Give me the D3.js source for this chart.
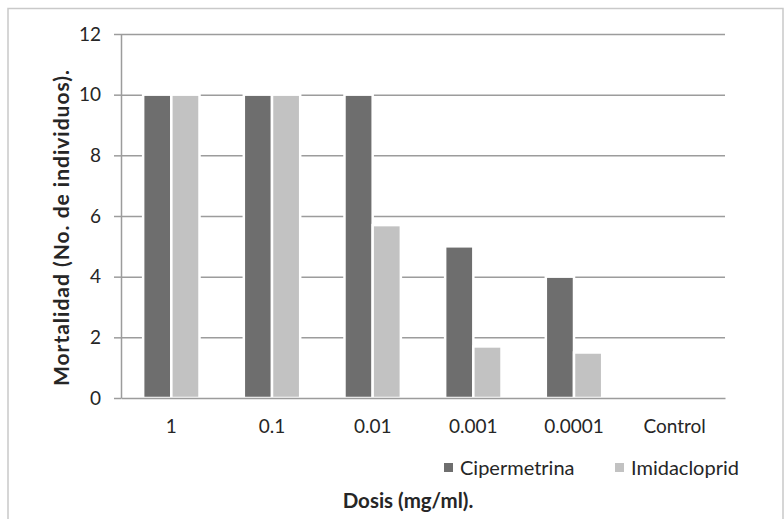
<!DOCTYPE html>
<html>
<head>
<meta charset="utf-8">
<script src="https://cdn.jsdelivr.net/npm/d3@7"></script>
<style>
  html, body { margin: 0; padding: 0; background: #fff; }
  svg { display: block; }
  text { font-family: Lato, "Open Sans", sans-serif; fill: #262626; }
</style>
</head>
<body>
<svg id="chart" width="784" height="519"></svg>
<script>
// ---- Data ----
const categories = ["1", "0.1", "0.01", "0.001", "0.0001", "Control"];
const seriesNames = ["Cipermetrina", "Imidacloprid"];
const cipermetrina = [10, 10, 10, 5, 4, 0];
const imidacloprid = [10, 10, 5.7, 1.7, 1.5, 0];
const yTicks = [0, 2, 4, 6, 8, 10, 12];
const yTitle = "Mortalidad (No. de individuos).";
const xTitle = "Dosis (mg/ml).";
const colors = ["#6e6e6e", "#c2c2c2"];

const seriesValues = [cipermetrina, imidacloprid];

const svg = d3.select("#chart");

// frame
svg.append("rect")
  .attr("x", 8).attr("y", 8.5).attr("width", 775).attr("height", 530)
  .attr("fill", "none").attr("stroke", "#c9c9c9").attr("stroke-width", 1.5);

const plot = { left: 121, right: 725, top: 34, bottom: 398 };

const x0 = d3.scaleBand().domain(categories)
  .range([plot.left, plot.right]).paddingInner(0.44).paddingOuter(0.22);
const x1 = d3.scaleBand().domain(seriesNames).range([0, x0.bandwidth()]).padding(0);
const y = d3.scaleLinear().domain([0, 12]).range([plot.bottom, plot.top]);

// gridlines
const grid = svg.append("g").attr("transform", `translate(${plot.left},0)`)
  .call(d3.axisLeft(y).tickValues(yTicks.filter(d => d > 0)).tickSize(-(plot.right - plot.left)).tickFormat(""));
grid.select(".domain").remove();
grid.selectAll("line").attr("stroke", "#9c9c9c").attr("stroke-width", 1.5);

// y axis (ticks + labels)
const yAxis = svg.append("g").attr("transform", `translate(${plot.left},0)`)
  .call(d3.axisLeft(y).tickValues(yTicks).tickSize(7).tickSizeOuter(0).tickPadding(13));
yAxis.select(".domain").attr("stroke", "#9c9c9c").attr("stroke-width", 1.5);
yAxis.selectAll("line").attr("stroke", "#9c9c9c").attr("stroke-width", 1.5);
yAxis.selectAll("text").attr("font-size", 19).attr("font-family", "Lato").attr("fill", "#262626");

// bars
const groups = svg.append("g").selectAll("g")
  .data(categories).join("g")
  .attr("transform", d => `translate(${x0(d)},0)`);

groups.selectAll("rect")
  .data((c, i) => seriesNames.map((s, j) => ({ s, v: seriesValues[j][i], j })))
  .join("rect")
  .attr("x", d => x1(d.s))
  .attr("width", x1.bandwidth())
  .attr("y", d => y(d.v))
  .attr("height", d => y(0) - y(d.v))
  .attr("fill", d => colors[d.j])
  .attr("stroke", "#fff")
  .attr("stroke-width", d => d.v > 0 ? 2.5 : 0);

// x axis
const xAxis = svg.append("g").attr("transform", `translate(0,${plot.bottom})`)
  .call(d3.axisBottom(x0).tickSize(0).tickPadding(22));
xAxis.select(".domain").attr("stroke", "#9c9c9c").attr("stroke-width", 1.5);
xAxis.selectAll("text").attr("font-size", 19).attr("font-family", "Lato").attr("fill", "#262626");

// y title
svg.append("text")
  .attr("transform", `translate(69,228) rotate(-90)`)
  .attr("text-anchor", "middle")
  .attr("font-size", 21).attr("font-weight", "bold")
  .attr("textLength", 316).attr("lengthAdjust", "spacing")
  .text(yTitle);

// x title
svg.append("text")
  .attr("x", 408).attr("y", 508)
  .attr("text-anchor", "middle")
  .attr("font-size", 20.5).attr("font-weight", "bold")
  .text(xTitle);

// legend
const legendX = [444, 615];
const lg = svg.append("g").selectAll("g").data(seriesNames).join("g")
  .attr("transform", (d, i) => `translate(${legendX[i]},463)`);
lg.append("rect").attr("width", 9).attr("height", 9).attr("fill", (d, i) => colors[i]);
lg.append("text").attr("x", 16).attr("y", 4.5).attr("dy", "0.35em")
  .attr("font-size", 20).text(d => d);
</script>
</body>
</html>
